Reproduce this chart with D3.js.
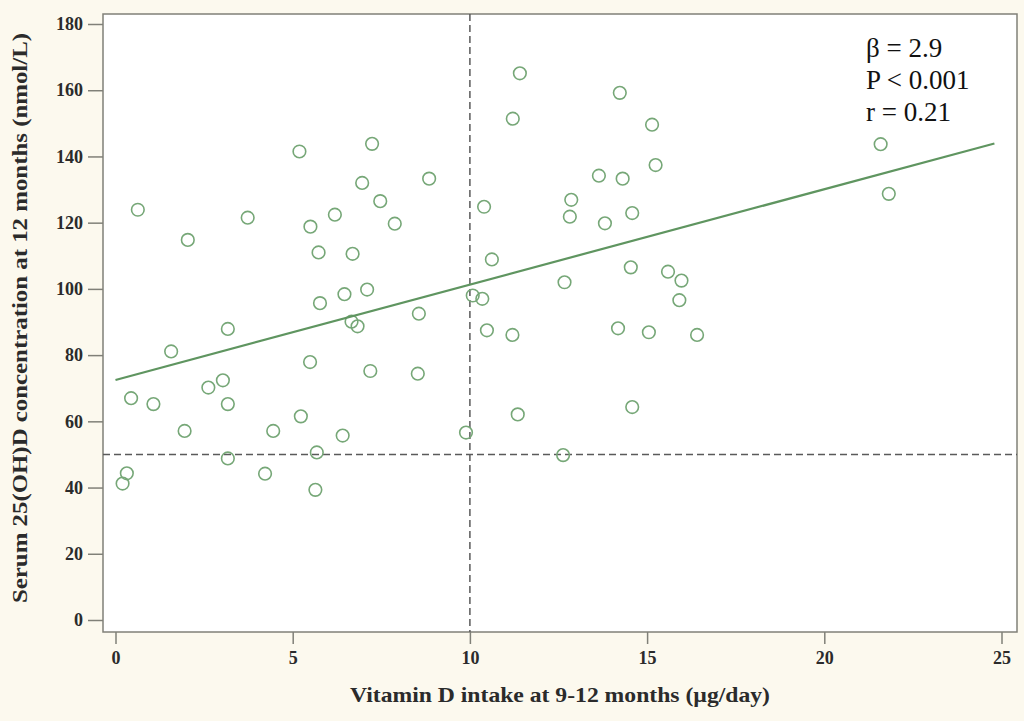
<!DOCTYPE html>
<html>
<head>
<meta charset="utf-8">
<script src="https://cdn.jsdelivr.net/npm/d3@7"></script>
<style>
  body { margin: 0; background: #fcf9ee; }
  svg { display: block; }
</style>
</head>
<body>
<div id="chart"></div>
<script>
// vitamin D intake (ug/day) and serum 25(OH)D (nmol/L)
const intake = [0.20, 0.32, 0.44, 0.63, 1.07, 1.57, 1.95, 2.04, 2.62, 3.03,
  3.17, 3.17, 3.17, 3.73, 4.22, 4.45, 5.19, 5.23, 5.49, 5.50,
  5.64, 5.68, 5.73, 5.77, 6.19, 6.41, 6.46, 6.66, 6.69, 6.83,
  6.96, 7.10, 7.19, 7.24, 7.47, 7.88, 8.56, 8.53, 8.85, 9.89,
  10.08, 10.35, 10.40, 10.48, 10.62, 11.21, 11.20, 11.35, 11.41, 12.67,
  12.63, 12.86, 12.82, 13.64, 13.81, 14.18, 14.23, 14.31, 14.58, 14.54,
  14.58, 15.05, 15.14, 15.24, 15.59, 15.91, 15.97, 16.41, 21.59, 21.82];
const serum = [41.2, 44.3, 67.0, 123.9, 65.2, 81.1, 57.1, 114.8, 70.2, 72.4,
  87.9, 65.2, 48.8, 121.5, 44.2, 57.1, 141.5, 61.5, 77.9, 118.8,
  39.3, 50.6, 111.0, 95.7, 122.4, 55.7, 98.4, 90.1, 110.6, 88.7,
  132.0, 99.8, 75.2, 143.8, 126.5, 119.7, 92.5, 74.4, 133.3, 56.6,
  98.0, 97.0, 124.8, 87.5, 108.9, 151.4, 86.1, 62.1, 165.1, 102.0,
  49.8, 126.9, 121.8, 134.2, 119.8, 88.1, 159.2, 133.3, 64.3, 106.5,
  122.9, 86.9, 149.6, 137.4, 105.2, 96.6, 102.5, 86.1, 143.7, 128.7];

const xTicks = [0, 5, 10, 15, 20, 25];
const yTicks = [0, 20, 40, 60, 80, 100, 120, 140, 160, 180];

// fitted line and cut-offs
const fitIntercept = 72.5;
const fitSlope = 2.88;
const fitRange = [0, 24.8];
const refIntake = 10;
const refSerum = 50;
const stats = ["\u03b2 = 2.9", "P < 0.001", "r = 0.21"];

const W = 1024, H = 721;
const FRAME = { LEFT: 103, TOP: 14, RIGHT: 1017, BOTTOM: 632 };
const GREEN = "#76a777";
const LINE_GREEN = "#5f9560";
const AXIS_COLOR = "#808078";
const TEXT_COLOR = "#2b2b2b";
const SERIF = "'Liberation Serif', 'Times New Roman', serif";

const svg = d3.select("#chart").append("svg")
  .attr("width", W)
  .attr("height", H);

svg.append("rect")
  .attr("width", W).attr("height", H)
  .attr("fill", "#fcf9ee");

// scales
const xScale = d3.scaleLinear().domain([0, 25]).range([115.5, 1001.5]);
const yScale = d3.scaleLinear().domain([0, 180]).range([620, 24]);

// plot area
svg.append("rect")
  .attr("x", FRAME.LEFT)
  .attr("y", FRAME.TOP)
  .attr("width", FRAME.RIGHT - FRAME.LEFT)
  .attr("height", FRAME.BOTTOM - FRAME.TOP)
  .attr("fill", "#ffffff")
  .attr("stroke", AXIS_COLOR)
  .attr("stroke-width", 1.5);

// x axis
const xAxisGroup = svg.append("g")
  .attr("transform", `translate(0, ${FRAME.BOTTOM})`)
  .call(d3.axisBottom(xScale).tickValues(xTicks).tickSize(12).tickPadding(7));
xAxisGroup.select(".domain").remove();

// y axis
const yAxisGroup = svg.append("g")
  .attr("transform", `translate(${FRAME.LEFT}, 0)`)
  .call(d3.axisLeft(yScale).tickValues(yTicks).tickSize(15).tickPadding(5));
yAxisGroup.select(".domain").remove();

[xAxisGroup, yAxisGroup].forEach(g => {
  g.attr("font-size", 18).attr("font-family", SERIF);
  g.selectAll(".tick line")
    .attr("stroke", AXIS_COLOR)
    .attr("stroke-width", 1.5);
  g.selectAll(".tick text")
    .attr("fill", TEXT_COLOR)
    .attr("font-weight", "bold");
});

// reference lines
svg.append("line")
  .attr("x1", xScale(refIntake)).attr("x2", xScale(refIntake))
  .attr("y1", FRAME.TOP).attr("y2", FRAME.BOTTOM)
  .attr("stroke", "#5a5a5a")
  .attr("stroke-width", 1.5)
  .attr("stroke-dasharray", "7,4");

svg.append("line")
  .attr("x1", FRAME.LEFT).attr("x2", FRAME.RIGHT)
  .attr("y1", yScale(refSerum)).attr("y2", yScale(refSerum))
  .attr("stroke", "#5a5a5a")
  .attr("stroke-width", 1.5)
  .attr("stroke-dasharray", "7,4");

// points
svg.append("g").selectAll("circle")
  .data(d3.zip(intake, serum))
  .join("circle")
  .attr("cx", d => xScale(d[0]))
  .attr("cy", d => yScale(d[1]))
  .attr("r", 6.3)
  .attr("fill", "none")
  .attr("stroke", GREEN)
  .attr("stroke-width", 1.6);

// regression line
const fitLine = d3.line()
  .x(d => xScale(d))
  .y(d => yScale(fitIntercept + fitSlope * d));
svg.append("path")
  .attr("d", fitLine(fitRange))
  .attr("fill", "none")
  .attr("stroke", LINE_GREEN)
  .attr("stroke-width", 2.2);

// stats
svg.append("g").selectAll("text")
  .data(stats)
  .join("text")
  .attr("x", 866)
  .attr("y", (d, i) => 57 + i * 32)
  .attr("font-family", SERIF)
  .attr("font-size", 27)
  .attr("fill", "#111")
  .text(d => d);

// x label
svg.append("text")
  .attr("x", (FRAME.LEFT + FRAME.RIGHT) / 2)
  .attr("y", 702)
  .attr("text-anchor", "middle")
  .attr("font-family", SERIF)
  .attr("font-weight", "bold")
  .attr("font-size", 22)
  .attr("fill", TEXT_COLOR)
  .attr("textLength", 420)
  .attr("lengthAdjust", "spacingAndGlyphs")
  .text("Vitamin D intake at 9-12 months (\u00b5g/day)");

// y label
svg.append("text")
  .attr("transform", "rotate(-90)")
  .attr("x", -318)
  .attr("y", 27)
  .attr("text-anchor", "middle")
  .attr("font-family", SERIF)
  .attr("font-weight", "bold")
  .attr("font-size", 20)
  .attr("fill", TEXT_COLOR)
  .attr("textLength", 570)
  .attr("lengthAdjust", "spacingAndGlyphs")
  .text("Serum 25(OH)D concentration at 12 months (nmol/L)");
</script>
</body>
</html>
